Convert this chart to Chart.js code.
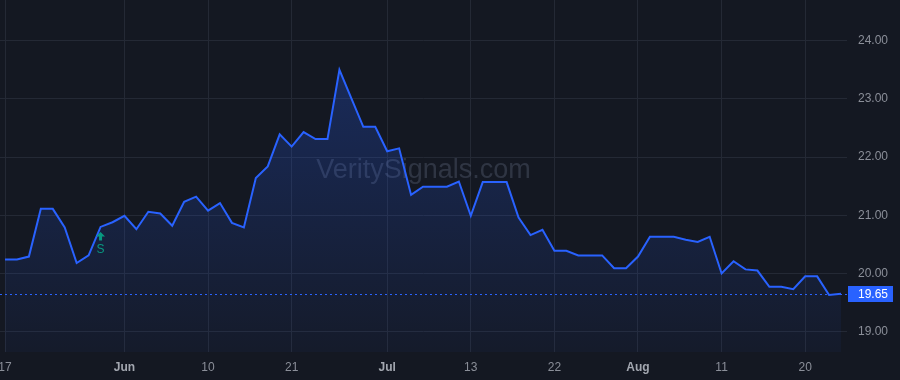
<!DOCTYPE html>
<html><head><meta charset="utf-8">
<script src="https://cdn.jsdelivr.net/npm/chart.js@4.4.1/dist/chart.umd.min.js"></script>
<style>html,body{margin:0;padding:0;background:#141822;}canvas{display:block;}</style>
</head><body>
<canvas id="c" width="900" height="380"></canvas>
<script>
// ---- data ----
const prices = [
  20.24, 20.24, 20.29, 21.11, 21.11, 20.79, 20.18, 20.31, 20.80, 20.88,
  20.99, 20.76, 21.06, 21.03, 20.82, 21.23, 21.32, 21.08, 21.21, 20.87,
  20.79, 21.64, 21.84, 22.39, 22.18, 22.43, 22.31, 22.31, 23.50, 23.01,
  22.52, 22.52, 22.10, 22.15, 21.35, 21.49, 21.49, 21.49, 21.58, 20.99,
  21.57, 21.57, 21.57, 20.96, 20.66, 20.75, 20.39, 20.39, 20.31, 20.31,
  20.31, 20.09, 20.09, 20.29, 20.63, 20.63, 20.63, 20.58, 20.54, 20.63,
  20.00, 20.21, 20.07, 20.05, 19.77, 19.77, 19.73, 19.95, 19.95, 19.63,
  19.65
];
const xTickPositions = [0, 10, 17, 24, 32, 39, 46, 53, 60, 67];
const xTickLabels = ['17', 'Jun', '10', '21', 'Jul', '13', '22', 'Aug', '11', '20'];
const monthLabels = ['Jun', 'Jul', 'Aug'];
const yTickValues = [19, 20, 21, 22, 23, 24];
const lastPrice = 19.65;
const signalIndex = 8;
const signalText = 'S';
const watermarkText = 'VeritySignals.com';

// ---- styles ----
const BG = '#141822';
const GRID = '#242935';
const BLUE = '#2962FF';
const TEXT = '#8b8f99';
const GREEN = '#089981';
const FONT = "'Liberation Sans', Arial, sans-serif";

const points = prices.map((v, i) => ({ x: i, y: v }));

const overlay = {
  id: 'overlay',
  beforeDraw(chart) {
    const c = chart.ctx;
    c.save();
    c.fillStyle = BG;
    c.fillRect(0, 0, chart.width, chart.height);
    c.restore();
  },
  beforeDatasetsDraw(chart) {
    const c = chart.ctx, a = chart.chartArea;
    c.save();
    c.font = '27px ' + FONT;
    c.fillStyle = 'rgba(120,130,155,0.28)';
    c.textAlign = 'center';
    c.textBaseline = 'middle';
    c.fillText(watermarkText, (a.left + a.right) / 2, 171);
    c.restore();
  },
  afterDatasetsDraw(chart) {
    const c = chart.ctx, a = chart.chartArea;
    const xs = chart.scales.x, ys = chart.scales.y;
    const yp = Math.round(ys.getPixelForValue(lastPrice)) + 0.5;
    c.save();
    // dashed last price line
    c.strokeStyle = BLUE;
    c.lineWidth = 1;
    c.setLineDash([2, 3]);
    c.beginPath();
    c.moveTo(a.left, yp);
    c.lineTo(a.right, yp);
    c.stroke();
    c.setLineDash([]);
    // price label
    c.fillStyle = BLUE;
    c.fillRect(a.right + 1, yp - 8.5, 45, 16);
    c.fillStyle = '#ffffff';
    c.font = '12px ' + FONT;
    c.textAlign = 'left';
    c.textBaseline = 'middle';
    c.fillText(lastPrice.toFixed(2), a.right + 11, yp);
    // signal marker
    const sx = xs.getPixelForValue(signalIndex);
    const sy = ys.getPixelForValue(prices[signalIndex]);
    c.fillStyle = GREEN;
    c.beginPath();
    c.moveTo(sx, sy + 5);
    c.lineTo(sx + 4.5, sy + 9.5);
    c.lineTo(sx + 1.5, sy + 9.5);
    c.lineTo(sx + 1.5, sy + 13.5);
    c.lineTo(sx - 1.5, sy + 13.5);
    c.lineTo(sx - 1.5, sy + 9.5);
    c.lineTo(sx - 4.5, sy + 9.5);
    c.closePath();
    c.fill();
    c.font = '12px ' + FONT;
    c.textAlign = 'center';
    c.textBaseline = 'middle';
    c.fillText(signalText, sx, sy + 23);
    c.restore();
  }
};

new Chart(document.getElementById('c'), {
  type: 'line',
  data: {
    datasets: [{
      data: points,
      borderColor: BLUE,
      borderWidth: 2,
      pointRadius: 0,
      tension: 0,
      fill: 'start',
      backgroundColor(ctx) {
        const a = ctx.chart.chartArea;
        if (!a) return 'rgba(41,98,255,0.15)';
        const g = ctx.chart.ctx.createLinearGradient(0, a.top + 60, 0, a.bottom);
        g.addColorStop(0, 'rgba(41,98,255,0.26)');
        g.addColorStop(1, 'rgba(41,98,255,0.04)');
        return g;
      }
    }]
  },
  options: {
    responsive: false,
    devicePixelRatio: 1,
    animation: false,
    layout: { padding: 0 },
    plugins: { legend: { display: false }, tooltip: { enabled: false } },
    scales: {
      x: {
        type: 'linear',
        min: -0.42,
        max: 70.5,
        border: { display: false },
        grid: { color: GRID, drawTicks: false, lineWidth: 1 },
        afterBuildTicks(s) { s.ticks = xTickPositions.map(v => ({ value: v })); },
        afterFit(s) { s.height = 28; s.paddingLeft = 0; s.paddingRight = 0; },
        ticks: {
          autoSkip: false,
          maxRotation: 0,
          padding: 8,
          color(ctx) { return monthLabels.includes(xTickLabels[ctx.index]) ? '#a3a7b0' : TEXT; },
          font(ctx) {
            return { family: FONT, size: 12, weight: monthLabels.includes(xTickLabels[ctx.index]) ? 'bold' : 'normal' };
          },
          callback(v, i) { return xTickLabels[i]; }
        }
      },
      y: {
        type: 'linear',
        position: 'right',
        min: 18.65,
        max: 24.70,
        border: { display: false },
        grid: { color: GRID, drawTicks: false, lineWidth: 1 },
        afterBuildTicks(s) { s.ticks = yTickValues.map(v => ({ value: v })); },
        afterFit(s) { s.width = 53; s.paddingTop = 0; s.paddingBottom = 0; },
        ticks: {
          padding: 11,
          color: TEXT,
          font: { family: FONT, size: 12 },
          callback(v) { return Number(v).toFixed(2); }
        }
      }
    }
  },
  plugins: [overlay]
});
</script>
</body></html>
